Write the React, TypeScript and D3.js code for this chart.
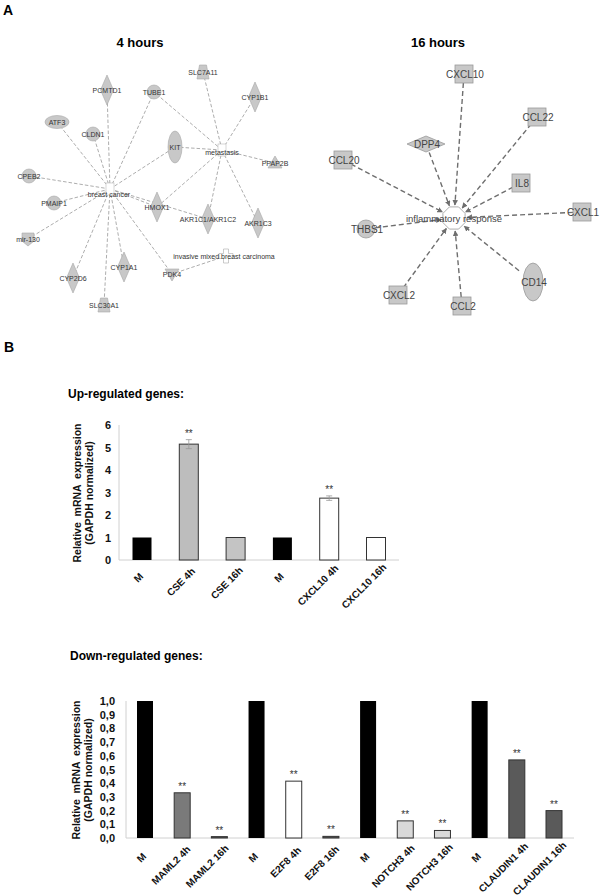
import React from "react";
import * as d3 from "d3";

// ---------- Panel A data ----------
const net4Nodes = [
  { id: "PCMTD1", shape: "diamond", x: 107, y: 90 },
  { id: "TUBE1", shape: "circle", x: 154, y: 92 },
  { id: "SLC7A11", shape: "trapezoid", x: 203, y: 72 },
  { id: "CYP1B1", shape: "diamond", x: 255, y: 97 },
  { id: "ATF3", shape: "hellipse", x: 57, y: 122 },
  { id: "CLDN1", shape: "circle", x: 93, y: 134 },
  { id: "KIT", shape: "vellipse", x: 175, y: 147 },
  { id: "metastasis", shape: "fn", x: 222, y: 150 },
  { id: "PPAP2B", shape: "triangle", x: 275, y: 163 },
  { id: "CPEB2", shape: "circle", x: 29, y: 176 },
  { id: "breast cancer", shape: "fn", x: 110, y: 189 },
  { id: "PMAIP1", shape: "circle", x: 54, y: 203 },
  { id: "HMOX1", shape: "diamond", x: 157, y: 207 },
  { id: "AKR1C1/AKR1C2", shape: "diamond", x: 208, y: 219 },
  { id: "AKR1C3", shape: "diamond", x: 258, y: 223 },
  { id: "mir-130", shape: "pentagon", x: 28, y: 239 },
  { id: "invasive mixed breast carcinoma", shape: "cross", x: 226, y: 256 },
  { id: "CYP1A1", shape: "diamond", x: 124, y: 267 },
  { id: "CYP2D6", shape: "diamond", x: 73, y: 278 },
  { id: "PDK4", shape: "invtriangle", x: 172, y: 274 },
  { id: "SLC30A1", shape: "trapezoid", x: 104, y: 305 },
];
const net4Edges = [
  ["breast cancer", "PCMTD1"], ["breast cancer", "TUBE1"], ["breast cancer", "ATF3"],
  ["breast cancer", "CLDN1"], ["breast cancer", "KIT"], ["breast cancer", "CPEB2"],
  ["breast cancer", "PMAIP1"], ["breast cancer", "HMOX1"], ["breast cancer", "AKR1C1/AKR1C2"],
  ["breast cancer", "mir-130"], ["breast cancer", "CYP2D6"], ["breast cancer", "CYP1A1"],
  ["breast cancer", "PDK4"], ["breast cancer", "SLC30A1"],
  ["metastasis", "SLC7A11"], ["metastasis", "CYP1B1"], ["metastasis", "TUBE1"],
  ["metastasis", "KIT"], ["metastasis", "PPAP2B"], ["metastasis", "HMOX1"],
  ["metastasis", "AKR1C1/AKR1C2"], ["metastasis", "AKR1C3"],
  ["invasive mixed breast carcinoma", "PDK4"],
];

const net16Center = { id: "inflammatory response", x: 454, y: 218 };
const net16Nodes = [
  { id: "CXCL10", shape: "square", x: 464, y: 74 },
  { id: "CCL22", shape: "square", x: 537, y: 117 },
  { id: "DPP4", shape: "hdiamond", x: 426, y: 144 },
  { id: "CCL20", shape: "square", x: 343, y: 160 },
  { id: "IL8", shape: "square", x: 521, y: 183 },
  { id: "CXCL1", shape: "square", x: 582, y: 212 },
  { id: "THBS1", shape: "circle", x: 366, y: 229 },
  { id: "CXCL2", shape: "square", x: 398, y: 295 },
  { id: "CCL2", shape: "square", x: 462, y: 306 },
  { id: "CD14", shape: "vellipse", x: 533, y: 282 },
];

// ---------- Panel B data ----------
const upCategories = ["M", "CSE 4h", "CSE 16h", "M ", "CXCL10 4h", "CXCL10 16h"];
const upValues = [1, 5.15, 1, 1, 2.75, 1];
const upErrors = [0, 0.2, 0, 0, 0.1, 0];
const upStars = [false, true, false, false, true, false];
const upColors = ["#000000", "#bdbdbd", "#c4c4c4", "#000000", "#ffffff", "#ffffff"];
const upTicks = [0, 1, 2, 3, 4, 5, 6];

const downCategories = [
  "M", "MAML2 4h", "MAML2 16h", "M ", "E2F8 4h", "E2F8 16h",
  "M  ", "NOTCH3 4h", "NOTCH3 16h", "M   ", "CLAUDIN1 4h", "CLAUDIN1 16h",
];
const downValues = [1, 0.33, 0.01, 1, 0.415, 0.012, 1, 0.125, 0.055, 1, 0.57, 0.2];
const downStars = [false, true, true, false, true, true, false, true, true, false, true, true];
const downColors = [
  "#000000", "#7a7a7a", "#555555", "#000000", "#ffffff", "#555555",
  "#000000", "#d9d9d9", "#d9d9d9", "#000000", "#5a5a5a", "#5a5a5a",
];
const downTicks = [0, 0.1, 0.2, 0.3, 0.4, 0.5, 0.6, 0.7, 0.8, 0.9, 1.0];

const FONT = "'Liberation Sans', Arial, sans-serif";

function Shape4({ n }: { n: any }) {
  const fill = "#c8c8c8";
  const stroke = "#a8a8a8";
  const { x, y } = n;
  switch (n.shape) {
    case "diamond":
      return <path d={`M${x},${y - 15}L${x + 6.5},${y}L${x},${y + 15}L${x - 6.5},${y}Z`} fill={fill} stroke={stroke} strokeWidth={0.6} />;
    case "circle":
      return <circle cx={x} cy={y} r={7} fill={fill} stroke={stroke} strokeWidth={0.6} />;
    case "hellipse":
      return <ellipse cx={x} cy={y} rx={12} ry={6.5} fill={fill} stroke={stroke} strokeWidth={0.6} />;
    case "vellipse":
      return <ellipse cx={x} cy={y} rx={7} ry={16} fill={fill} stroke={stroke} strokeWidth={0.6} />;
    case "triangle":
      return <path d={`M${x},${y - 7}L${x + 7},${y + 5}L${x - 7},${y + 5}Z`} fill={fill} stroke={stroke} strokeWidth={0.6} />;
    case "invtriangle":
      return <path d={`M${x - 7},${y - 5}L${x + 7},${y - 5}L${x},${y + 7}Z`} fill={fill} stroke={stroke} strokeWidth={0.6} />;
    case "trapezoid":
      return <path d={`M${x - 3.5},${y - 7}L${x + 3.5},${y - 7}L${x + 6},${y + 7}L${x - 6},${y + 7}Z`} fill={fill} stroke={stroke} strokeWidth={0.6} />;
    case "pentagon":
      return <path d={`M${x - 6},${y - 6}L${x + 6},${y - 6}L${x + 6},${y + 2}L${x},${y + 7}L${x - 6},${y + 2}Z`} fill={fill} stroke={stroke} strokeWidth={0.6} />;
    case "fn":
      return <rect x={x - 4} y={y - 6} width={8} height={12} fill="#fff" stroke="#bbb" strokeWidth={0.6} />;
    case "cross":
      return <path d={`M${x - 2.5},${y - 7}h5v4.5h4.5v5h-4.5v4.5h-5v-4.5h-4.5v-5h4.5Z`} fill="#fff" stroke="#aaa" strokeWidth={0.6} />;
    default:
      return null;
  }
}

function Network4() {
  const byId = new Map(net4Nodes.map((n) => [n.id, n]));
  const labelPos = (n: any) => {
    if (n.id === "breast cancer") return { x: n.x - 1, y: n.y + 8 };
    if (n.id === "metastasis") return { x: n.x, y: n.y + 5 };
    if (n.id === "invasive mixed breast carcinoma") return { x: n.x - 2, y: n.y + 2.5 };
    return { x: n.x, y: n.y + 2.5 };
  };
  return (
    <g>
      {net4Edges.map(([a, b], i) => {
        const s = byId.get(a)!;
        const t = byId.get(b)!;
        return (
          <line key={i} x1={s.x} y1={s.y} x2={t.x} y2={t.y} stroke="#8a8a8a" strokeWidth={0.7} strokeDasharray="3.5,2" />
        );
      })}
      {net4Nodes.map((n) => (
        <Shape4 key={n.id} n={n} />
      ))}
      {net4Nodes.map((n) => {
        const p = labelPos(n);
        return (
          <text key={n.id + "t"} x={p.x} y={p.y} fontSize={7} fontFamily={FONT} textAnchor="middle" fill="#333">
            {n.id}
          </text>
        );
      })}
    </g>
  );
}

function Network16() {
  const c = net16Center;
  const oct = d3.range(8).map((i) => {
    const a = (Math.PI / 8) + (i * Math.PI) / 4;
    return [c.x + 12 * Math.cos(a), c.y + 12 * Math.sin(a)];
  });
  return (
    <g>
      <defs>
        <marker id="arr" viewBox="0 0 10 10" refX={9} refY={5} markerWidth={4} markerHeight={4} orient="auto">
          <path d="M0,0L10,5L0,10Z" fill="#6e6e6e" />
        </marker>
      </defs>
      {net16Nodes.map((n) => {
        const dx = c.x - n.x;
        const dy = c.y - n.y;
        const L = Math.hypot(dx, dy);
        const ux = dx / L;
        const uy = dy / L;
        const s0 = n.shape === "vellipse" ? 18 : 9;
        return (
          <line key={n.id + "e"} x1={n.x + ux * s0} y1={n.y + uy * s0} x2={c.x - ux * 13} y2={c.y - uy * 13}
            stroke="#6e6e6e" strokeWidth={1.4} strokeDasharray="5,3" markerEnd="url(#arr)" />
        );
      })}
      <polygon points={oct.map((p) => p.join(",")).join(" ")} fill="#fff" stroke="#999" strokeWidth={0.8} />
      {net16Nodes.map((n) => {
        const fill = "#c8c8c8";
        const stroke = "#9a9a9a";
        let el: any = null;
        if (n.shape === "square") el = <rect x={n.x - 9} y={n.y - 9} width={18} height={18} fill={fill} stroke={stroke} strokeWidth={0.8} />;
        else if (n.shape === "circle") el = <circle cx={n.x} cy={n.y} r={9} fill={fill} stroke={stroke} strokeWidth={0.8} />;
        else if (n.shape === "vellipse") el = <ellipse cx={n.x} cy={n.y} rx={10} ry={19} fill={fill} stroke={stroke} strokeWidth={0.8} />;
        else if (n.shape === "hdiamond") el = <path d={`M${n.x - 19},${n.y}L${n.x},${n.y - 8}L${n.x + 19},${n.y}L${n.x},${n.y + 8}Z`} fill={fill} stroke={stroke} strokeWidth={0.8} />;
        return <g key={n.id}>{el}</g>;
      })}
      {net16Nodes.map((n) => (
        <text key={n.id + "t"} x={n.x + 1} y={n.y + 3.5} fontSize={10} fontFamily={FONT} textAnchor="middle" fill="#444">
          {n.id}
        </text>
      ))}
      <text x={c.x} y={c.y + 3.5} fontSize={9.5} fontFamily={FONT} textAnchor="middle" fill="#444">
        {c.id}
      </text>
    </g>
  );
}

function BarChart(props: {
  cats: string[]; vals: number[]; colors: string[]; stars: boolean[]; errs?: number[];
  ticks: number[]; yDomain: [number, number]; yRange: [number, number];
  xRange: [number, number]; axisX: number; axisEnd: number; barW: number;
  tickFmt: (v: number) => string; tickX: number; labelY: number; ylabCY: number; ylabX: number;
}) {
  const { cats, vals, colors, stars, errs, ticks, yDomain, yRange, xRange, axisX, axisEnd, barW, tickFmt, tickX, labelY, ylabCY, ylabX } = props;
  const x = d3.scalePoint<string>().domain(cats).range(xRange);
  const y = d3.scaleLinear().domain(yDomain).range(yRange);
  return (
    <g fontFamily={FONT}>
      <line x1={axisX} x2={axisX} y1={y(yDomain[1])} y2={y(0)} stroke="#d0d0d0" strokeWidth={1} />
      <line x1={axisX} x2={axisEnd} y1={y(0)} y2={y(0)} stroke="#d0d0d0" strokeWidth={1} />
      {ticks.map((t) => (
        <text key={t} x={tickX} y={y(t) + 4} textAnchor="end" fontSize={11} fontWeight="bold" fill="#111">
          {tickFmt(t)}
        </text>
      ))}
      {cats.map((c, i) => {
        const cx = x(c)!;
        const top = y(vals[i]);
        const e = errs ? errs[i] : 0;
        const isDark = colors[i] === "#000000";
        return (
          <g key={c}>
            <rect x={cx - barW / 2} y={top} width={barW} height={y(0) - top} fill={colors[i]}
              stroke={isDark ? "#000" : "#333"} strokeWidth={isDark ? 0 : 1} />
            {e > 0 && (
              <g stroke="#999" strokeWidth={0.8}>
                <line x1={cx} x2={cx} y1={y(vals[i] + e)} y2={y(vals[i] - e)} />
                <line x1={cx - 3} x2={cx + 3} y1={y(vals[i] + e)} y2={y(vals[i] + e)} />
                <line x1={cx - 3} x2={cx + 3} y1={y(vals[i] - e)} y2={y(vals[i] - e)} />
              </g>
            )}
            {stars[i] && (
              <text x={cx} y={y(vals[i] + e) - 3} textAnchor="middle" fontSize={10} fill="#333">**</text>
            )}
          </g>
        );
      })}
      {cats.map((c) => {
        const label = c.trim();
        const cx = x(c)!;
        const shift = (label.length - 1) * 1.0;
        const ex = cx + 2 + shift;
        const ey = labelY - shift;
        return (
          <text key={c + "l"} x={ex} y={ey} transform={`rotate(-45,${ex},${ey})`} textAnchor="end"
            fontSize={10} fontWeight="bold" fill="#111">
            {label}
          </text>
        );
      })}
      <g transform={`translate(${ylabX},${ylabCY}) rotate(-90)`}>
        <text x={0} y={0} textAnchor="middle" fontSize={10.5} fontWeight="bold" fill="#111" style={{ whiteSpace: "pre" }}>
          Relative  mRNA  expression
        </text>
        <text x={0} y={12} textAnchor="middle" fontSize={10.5} fontWeight="bold" fill="#111">
          (GAPDH normalized)
        </text>
      </g>
    </g>
  );
}

export default function App() {
  return (
    <svg width={600} height={895} style={{ position: "absolute", left: 0, top: 0, background: "#fff" }}>
      <rect width={600} height={895} fill="#fff" />
      <text x={3} y={15} fontSize={14} fontWeight="bold" fontFamily={FONT}>A</text>
      <text x={140} y={47} fontSize={13} fontWeight="bold" fontFamily={FONT} textAnchor="middle">4 hours</text>
      <text x={438} y={47} fontSize={13} fontWeight="bold" fontFamily={FONT} textAnchor="middle">16 hours</text>
      <Network4 />
      <Network16 />

      <text x={4} y={352} fontSize={14} fontWeight="bold" fontFamily={FONT}>B</text>
      <text x={68} y={398} fontSize={12} fontWeight="bold" fontFamily={FONT}>Up-regulated genes:</text>
      <BarChart cats={upCategories} vals={upValues} colors={upColors} stars={upStars} errs={upErrors}
        ticks={upTicks} yDomain={[0, 6]} yRange={[560, 425]} xRange={[142, 376]} axisX={119} axisEnd={399}
        barW={19} tickFmt={(v) => d3.format("d")(v)} tickX={111} labelY={577} ylabCY={493} ylabX={81} />

      <text x={70} y={660} fontSize={12} fontWeight="bold" fontFamily={FONT}>Down-regulated genes:</text>
      <BarChart cats={downCategories} vals={downValues} colors={downColors} stars={downStars}
        ticks={downTicks} yDomain={[0, 1]} yRange={[838, 701]} xRange={[145, 554]} axisX={126} axisEnd={574}
        barW={16} tickFmt={(v) => d3.format(".1f")(v).replace(".", ",")} tickX={115} labelY={857} ylabCY={770} ylabX={80} />
    </svg>
  );
}
